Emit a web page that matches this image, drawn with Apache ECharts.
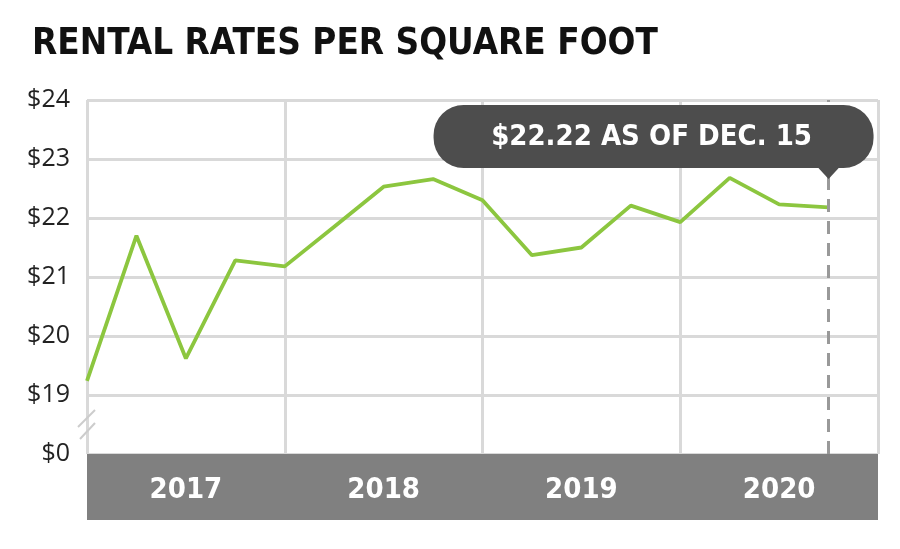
<!DOCTYPE html>
<html>
<head>
<meta charset="utf-8">
<script src="https://cdn.jsdelivr.net/npm/echarts@6/dist/echarts.min.js"></script>
<style>
html,body{margin:0;padding:0;background:#fff;}
#chart{width:900px;height:549px;}
</style>
</head>
<body>
<div id="chart"></div>
<script>
// Quarterly index (0 = Q1 2017) and rental rate per sq ft
var quarters = [0,1,2,3,4,5,6,7,8,9,10,11,12,13,14,15];
var rates = [19.24,21.70,19.62,21.28,21.18,21.85,22.53,22.66,22.30,21.37,21.50,22.21,21.93,22.68,22.23,22.18];
var years = ['2017','2018','2019','2020'];
var yTicks = [18,19,20,21,22,23,24];
var yTickLabels = ['$0','$19','$20','$21','$22','$23','$24'];
var calloutText = '$22.22 AS OF DEC. 15';
var titleText = 'RENTAL RATES PER SQUARE FOOT';

var points = quarters.map(function(q,i){return [q, rates[i]];});
var lastIdx = quarters.length - 1;

var chart = echarts.init(document.getElementById('chart'));
var condensed = '"DejaVu Sans Condensed","Liberation Sans Narrow",sans-serif';

chart.setOption({
  animation:false,
  title:{
    text:titleText,
    left:27, top:21,
    textStyle:{fontFamily:condensed, fontWeight:'bold', fontSize:36.5, color:'#111'}
  },
  grid:{left:87, right:22, top:100, bottom:95},
  xAxis:[{
    type:'value', min:0, max:16, interval:4,
    axisLine:{show:false}, axisTick:{show:false}, axisLabel:{show:false},
    splitLine:{show:true, lineStyle:{color:'#d9d9d9', width:3}}
  },{
    type:'category', data:years, position:'bottom', offset:33,
    axisLine:{show:true, lineStyle:{color:'#808080', width:66, cap:'butt'}},
    axisTick:{show:false},
    axisLabel:{color:'#fff', fontFamily:condensed, fontWeight:'bold', fontSize:29, margin:3, verticalAlign:'middle'},
    splitLine:{show:false}
  }],
  yAxis:{
    type:'value', min:18, max:24, interval:1,
    axisLine:{show:false}, axisTick:{show:false},
    axisLabel:{
      fontFamily:'"Open Sans",sans-serif', fontSize:25, color:'#222', margin:17,
      formatter:function(v){var i=yTicks.indexOf(v);return i>=0?yTickLabels[i]:'';}
    },
    splitLine:{show:true, lineStyle:{color:'#d9d9d9', width:3}}
  },
  series:[{
    type:'line', data:points, xAxisIndex:0,
    symbol:'none', lineStyle:{color:'#8cc63f', width:3.8},
    z:3,
    markLine:{
      silent:true, symbol:'none', label:{show:false},
      lineStyle:{color:'#999', type:[13,9], width:3},
      data:[{xAxis:quarters[lastIdx]}]
    }
  }]
});

// callout anchored to the last data point's x position
var px = chart.convertToPixel({gridIndex:0}, points[lastIdx]);
var tipX = px[0];
var boxRight = tipX + 45, boxLeft = tipX - 395;
var boxTop = 105, boxBottom = 168;
chart.setOption({
  graphic:[
    {type:'rect', z:10, shape:{x:boxLeft, y:boxTop, width:boxRight-boxLeft, height:boxBottom-boxTop, r:30},
     style:{fill:'#4d4d4d'}},
    {type:'polygon', z:10, shape:{points:[[tipX-12,boxBottom-2],[tipX+12,boxBottom-2],[tipX,boxBottom+11]]},
     style:{fill:'#4d4d4d'}},
    {type:'text', z:11, x:(boxLeft+boxRight)/2 - 2, y:(boxTop+boxBottom)/2 + 1,
     style:{text:calloutText, fill:'#fff', font:'bold 29px '+condensed, align:'center', verticalAlign:'middle'}},
    {type:'line', z:10, shape:{x1:78,y1:427,x2:95,y2:410}, style:{stroke:'#cccccc', lineWidth:2}},
    {type:'line', z:10, shape:{x1:80,y1:439,x2:95,y2:423}, style:{stroke:'#cccccc', lineWidth:2}}
  ]
});
</script>
</body>
</html>
